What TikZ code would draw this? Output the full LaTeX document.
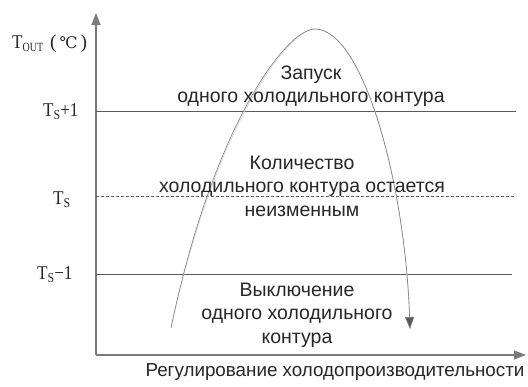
\documentclass[tikz,border=0pt]{standalone}
\usepackage{fontspec}
\setmainfont{Liberation Serif}
\newfontfamily\ruf{Liberation Sans}
\newfontfamily\symf{DejaVu Serif}
\usetikzlibrary{arrows.meta}
\definecolor{axisgray}{HTML}{7A7A7A}
\definecolor{linegray}{HTML}{5A5A5A}
\definecolor{curvegray}{HTML}{7C7C7C}
\definecolor{shadowgray}{HTML}{DADADA}
\definecolor{txt}{HTML}{262626}
\tikzset{
  axisline/.style={draw=axisgray,line width=1.1pt,-{Triangle[length=12pt,width=9pt]}},
  level/.style={draw=linegray,line width=0.8pt},
  dashlevel/.style={draw=linegray,line width=0.6pt,dashed,dash pattern=on 3pt off 2pt},
  curve/.style={draw=curvegray,line width=0.6pt},
  shadowcurve/.style={draw=shadowgray,line width=0.8pt},
  rutext/.style={font=\ruf\fontsize{19.5}{23.5}\selectfont,text=txt,align=center,inner sep=0pt},
  ylab/.style={font=\fontsize{19.5}{20}\selectfont,text=txt,inner sep=0pt,anchor=base west},
}
\newcommand{\subS}{\raisebox{-0.3ex}{\fontsize{13.5}{13}\selectfont S}}
\newcommand{\narrow}[1]{\scalebox{0.88}[1]{#1}}
\begin{document}
\begin{tikzpicture}[x=1pt,y=-1pt]
\useasboundingbox (0,0) rectangle (528,387);
% axes
\coordinate (o) at (96,355);
\coordinate (ytip) at (96,13);
\coordinate (xtip) at (526,355);
\draw[axisline] (o) -- (ytip);
\draw[axisline] (o) -- (xtip);
% levels
\coordinate (l1a) at (96,111); \coordinate (l1b) at (516,111);
\coordinate (l0a) at (96,196); \coordinate (l0b) at (516,196);
\coordinate (lma) at (96,274); \coordinate (lmb) at (512,274);
\draw[level] (l1a) -- (l1b);
\draw[dashlevel] (l0a) -- (l0b);
\draw[level] (lma) -- (lmb);
% curve
\coordinate (cs) at (171,328);
\coordinate (cp) at (315,29);
\coordinate (ce) at (410,329);
\draw[shadowcurve,shift={(1.2,1.2)}] (cs) .. controls (212,130) and (285,29) .. (cp)
   .. controls (362,29) and (405,180) .. (ce);
\draw[curve,-{Triangle[length=12pt,width=9pt,fill=linegray]}] (cs) .. controls (212,130) and (285,29) .. (cp)
   .. controls (362,29) and (405,180) .. (ce);
% labels
\node[ylab] (tout) at (12,49) {\narrow{T}\raisebox{-0.3ex}{\scalebox{0.8}[1]{\fontsize{12.5}{12}\selectfont OUT}}\hspace{7pt}(\hspace{3pt}{\symf\fontsize{16}{16}\selectfont ℃}\hspace{3pt})};
\node[ylab] (tsp) at (43,117) {\narrow{T\subS+1}};
\node[ylab] (ts) at (53,205) {\narrow{T\subS}};
\node[ylab] (tsm) at (37,280) {\narrow{T\subS−1}};
\node[rutext] (t1) at (311,86) {Запуск\\одного холодильного контура};
\node[rutext] (t2) at (302,186) {Количество\\холодильного контура остается\\неизменным};
\node[rutext] (t3) at (297,315) {Выключение\\одного холодильного\\контура};
\node[rutext,font=\ruf\fontsize{18.8}{22}\selectfont] (xl) at (335,372) {Регулирование холодопроизводительности};
\end{tikzpicture}
\end{document}
